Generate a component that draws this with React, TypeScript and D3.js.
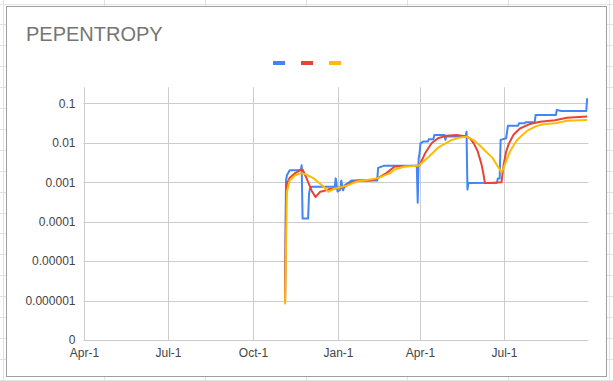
import React from "react";
import * as d3 from "d3";

const TITLE = "PEPENTROPY";
const X_DOMAIN = ["2020-04-01", "2021-09-30"];
const X_TICKS = ["2020-04-01", "2020-07-01", "2020-10-01", "2021-01-01", "2021-04-01", "2021-07-01"];
const Y_TICKS = [1e-7, 1e-6, 1e-5, 1e-4, 1e-3, 1e-2, 1e-1];
const Y_LABELS = ["0", "0.000001", "0.00001", "0.0001", "0.001", "0.01", "0.1"];
const SERIES_COLORS = ["#4285F4", "#EA4335", "#FBBC04"];

const blueSeries: [string, number][] = [
  ["2020-11-05", 1e-6], ["2020-11-06", 0.0011], ["2020-11-07", 0.0015], ["2020-11-10", 0.002],
  ["2020-11-22", 0.002], ["2020-11-23", 0.0027], ["2020-11-24", 0.00012], ["2020-11-30", 0.00012],
  ["2020-12-01", 0.0005], ["2020-12-02", 0.0007], ["2020-12-04", 0.00077], ["2020-12-29", 0.00077],
  ["2020-12-30", 0.00125], ["2021-01-01", 0.00058], ["2021-01-04", 0.00065], ["2021-01-05", 0.0011],
  ["2021-01-07", 0.00062], ["2021-01-09", 0.00085], ["2021-01-13", 0.00097], ["2021-01-16", 0.0011],
  ["2021-02-13", 0.0011], ["2021-02-14", 0.0023], ["2021-02-20", 0.0026], ["2021-03-28", 0.0026],
  ["2021-03-29", 0.0003], ["2021-03-30", 0.004], ["2021-03-31", 0.0054], ["2021-04-01", 0.0097],
  ["2021-04-04", 0.0107], ["2021-04-09", 0.0107], ["2021-04-10", 0.0122], ["2021-04-15", 0.0122],
  ["2021-04-16", 0.0157], ["2021-04-27", 0.0157], ["2021-04-28", 0.0118], ["2021-04-29", 0.0143],
  ["2021-05-20", 0.0143], ["2021-05-21", 0.019], ["2021-05-22", 0.00065], ["2021-05-23", 0.00095],
  ["2021-06-23", 0.00097], ["2021-06-24", 0.00125], ["2021-06-26", 0.00125], ["2021-06-27", 0.0118],
  ["2021-07-03", 0.013], ["2021-07-05", 0.027], ["2021-07-16", 0.027], ["2021-07-17", 0.031],
  ["2021-07-23", 0.031], ["2021-07-24", 0.033], ["2021-08-03", 0.033], ["2021-08-04", 0.0505],
  ["2021-08-26", 0.0505], ["2021-08-27", 0.0676], ["2021-09-01", 0.064], ["2021-09-28", 0.064],
  ["2021-09-29", 0.134],
];

const redSeries: [string, number][] = [
  ["2020-11-05", 9e-7], ["2020-11-06", 0.0004], ["2020-11-07", 0.0009], ["2020-11-10", 0.0013],
  ["2020-11-16", 0.0017], ["2020-11-21", 0.002], ["2020-11-24", 0.0021], ["2020-11-28", 0.0013],
  ["2020-12-04", 0.0006], ["2020-12-08", 0.00042], ["2020-12-13", 0.00057], ["2020-12-17", 0.0006],
  ["2020-12-22", 0.00066], ["2020-12-31", 0.0007], ["2021-01-09", 0.00077], ["2021-01-14", 0.00094],
  ["2021-01-22", 0.0011], ["2021-02-05", 0.0011], ["2021-02-12", 0.0012], ["2021-02-23", 0.0017],
  ["2021-03-04", 0.0025], ["2021-03-06", 0.0025], ["2021-03-29", 0.0026], ["2021-03-31", 0.0027],
  ["2021-04-06", 0.0054], ["2021-04-13", 0.0097], ["2021-04-20", 0.013], ["2021-04-29", 0.015],
  ["2021-05-10", 0.0157], ["2021-05-21", 0.0145], ["2021-05-25", 0.0128], ["2021-05-29", 0.0095],
  ["2021-06-02", 0.0062], ["2021-06-06", 0.003], ["2021-06-08", 0.0018], ["2021-06-10", 0.00095],
  ["2021-06-15", 0.00095], ["2021-06-28", 0.001], ["2021-06-30", 0.0025], ["2021-07-03", 0.006],
  ["2021-07-06", 0.0095], ["2021-07-11", 0.016], ["2021-07-18", 0.023], ["2021-07-29", 0.03],
  ["2021-08-09", 0.034], ["2021-08-25", 0.037], ["2021-09-07", 0.043], ["2021-09-29", 0.046],
];

const yellowSeries: [string, number][] = [
  ["2020-11-05", 8e-7], ["2020-11-07", 0.00057], ["2020-11-10", 0.0011], ["2020-11-16", 0.0015],
  ["2020-11-22", 0.0017], ["2020-11-27", 0.0016], ["2020-12-06", 0.00125], ["2020-12-12", 0.00095],
  ["2020-12-17", 0.00077], ["2020-12-22", 0.00057], ["2020-12-27", 0.00066], ["2021-01-11", 0.00082],
  ["2021-01-22", 0.00104], ["2021-02-13", 0.00125], ["2021-02-27", 0.0017], ["2021-03-04", 0.0021],
  ["2021-03-15", 0.0025], ["2021-03-30", 0.0026], ["2021-04-10", 0.0044], ["2021-04-20", 0.0075],
  ["2021-05-05", 0.0118], ["2021-05-14", 0.0135], ["2021-05-21", 0.0143], ["2021-05-25", 0.013],
  ["2021-05-29", 0.0115], ["2021-06-04", 0.0088], ["2021-06-11", 0.006], ["2021-06-18", 0.0042],
  ["2021-06-24", 0.0025], ["2021-06-28", 0.0018], ["2021-06-30", 0.0022], ["2021-07-03", 0.0035],
  ["2021-07-07", 0.0058], ["2021-07-11", 0.0085], ["2021-07-15", 0.0118], ["2021-07-21", 0.016],
  ["2021-07-27", 0.021], ["2021-08-04", 0.026], ["2021-08-12", 0.0295], ["2021-08-25", 0.031],
  ["2021-09-07", 0.036], ["2021-09-29", 0.0377],
];

const SERIES = [blueSeries, redSeries, yellowSeries];

const W = 613;
const H = 381;

export default function App() {
  const parse = d3.utcParse("%Y-%m-%d");
  const x = d3
    .scaleUtc()
    .domain(X_DOMAIN.map((d) => parse(d) as Date))
    .range([84.3, 588.1]);
  const y = d3.scaleLog().domain([1e-7, 0.1]).range([340, 103.3]);
  const plotTop = 87.3;
  const fmt = d3.utcFormat("%b-%-d");

  const line = d3
    .line<[string, number]>()
    .x((d) => x(parse(d[0]) as Date))
    .y((d) => y(d[1]));

  const colLines = d3.range(7).map((i) => 3.5 + i * 101);
  const rowLines = d3.range(19).map((i) => 3.5 + i * 20.9);

  return (
    <svg
      width={W}
      height={H}
      style={{ position: "fixed", left: 0, top: 0, background: "#fff" }}
      fontFamily="Arial, 'Liberation Sans', sans-serif"
    >
      {colLines.map((cx, i) => (
        <line key={"c" + i} x1={cx} x2={cx} y1={0} y2={H} stroke="#e2e2e2" strokeWidth={1} />
      ))}
      {rowLines.map((ry, i) => (
        <line key={"r" + i} x1={0} x2={W} y1={Math.round(ry) + 0.5} y2={Math.round(ry) + 0.5} stroke="#e2e2e2" strokeWidth={1} />
      ))}
      <rect x={6.5} y={6.5} width={600} height={370} fill="#fff" stroke="#9e9e9e" strokeWidth={1} />

      <text x={26} y={41} fontSize={20} fill="#757575">
        {TITLE}
      </text>

      {SERIES_COLORS.map((c, i) => (
        <rect key={"lg" + i} x={273 + i * 28} y={61} width={12} height={4} fill={c} />
      ))}

      {Y_TICKS.map((t, i) => (
        <g key={"y" + i}>
          <line x1={83.5} x2={588.5} y1={Math.round(y(t)) + 0.5} y2={Math.round(y(t)) + 0.5} stroke="#cccccc" strokeWidth={1} />
          <text x={75.5} y={y(t) + 4.3} fontSize={12} fill="#444" textAnchor="end">
            {Y_LABELS[i]}
          </text>
        </g>
      ))}
      {X_TICKS.map((t, i) => {
        const px = Math.round(x(parse(t) as Date)) + 0.5;
        return (
          <g key={"x" + i}>
            <line x1={px} x2={px} y1={plotTop} y2={340.5} stroke="#cccccc" strokeWidth={1} />
            <text x={px} y={356.5} fontSize={12} fill="#444" textAnchor="middle">
              {fmt(parse(t) as Date)}
            </text>
          </g>
        );
      })}

      {SERIES.map((s, i) => (
        <path
          key={"s" + i}
          d={line(s) || ""}
          fill="none"
          stroke={SERIES_COLORS[i]}
          strokeWidth={2}
          strokeLinejoin="round"
        />
      ))}
    </svg>
  );
}
